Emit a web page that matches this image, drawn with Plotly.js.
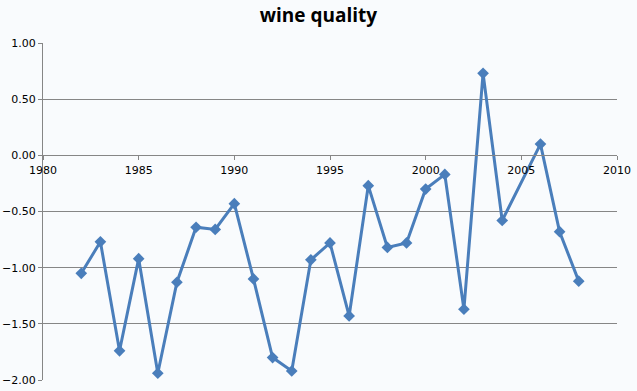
<!DOCTYPE html>
<html>
<head>
<meta charset="utf-8">
<script src="https://cdn.plot.ly/plotly-3.0.1.min.js"></script>
<style>html,body{margin:0;padding:0;background:#f9fbfd;}</style>
</head>
<body>
<div id="chart" style="width:637px;height:391px;"></div>
<script>
var years = [1982,1983,1984,1985,1986,1987,1988,1989,1990,1991,1992,1993,1994,1995,1996,1997,1998,1999,2000,2001,2002,2003,2004,2006,2007,2008];
var quality = [-1.05,-0.77,-1.74,-0.92,-1.94,-1.13,-0.64,-0.66,-0.43,-1.10,-1.80,-1.92,-0.93,-0.78,-1.43,-0.27,-0.82,-0.78,-0.30,-0.17,-1.37,0.73,-0.58,0.10,-0.68,-1.12];
var xTicks = [1980,1985,1990,1995,2000,2005,2010];
var yTicks = [1.0,0.5,0.0,-0.5,-1.0,-1.5,-2.0];

var trace = {
  x: years, y: quality, type: 'scatter', mode: 'lines+markers',
  line: {color: '#4a7ebb', width: 3},
  marker: {symbol: 'diamond', size: 9, color: '#4a7ebb'},
  cliponaxis: false
};
var layout = {
  width: 637, height: 391,
  paper_bgcolor: '#f9fbfd', plot_bgcolor: '#f9fbfd',
  margin: {l: 43, r: 20, t: 43, b: 11},
  showlegend: false,
  title: {text: '<b>wine quality</b>', x: 0.5, xanchor: 'center', y: 0.96, yanchor: 'middle',
          font: {family: 'Open Sans, Liberation Sans, sans-serif', size: 19, color: '#000'}},
  font: {family: 'DejaVu Sans, Liberation Sans, sans-serif', size: 11, color: '#000'},
  xaxis: {
    range: [1980, 2010], tickvals: xTicks, ticktext: xTicks.map(String),
    anchor: 'free', position: 2/3, showline: true, linecolor: '#868686', linewidth: 1,
    ticks: 'outside', ticklen: 4, tickcolor: '#868686', showgrid: false, zeroline: false,
    tickfont: {size: 11}
  },
  yaxis: {
    range: [-2, 1], domain: [0, 1], tickvals: yTicks, tickformat: '.2f',
    showline: true, linecolor: '#868686', linewidth: 1,
    ticks: 'outside', ticklen: 4, tickcolor: '#868686',
    showgrid: true, gridcolor: '#868686', gridwidth: 1, zeroline: false,
    tickfont: {size: 11}
  }
};
Plotly.newPlot('chart', [trace], layout, {staticPlot: true, displayModeBar: false});
</script>
</body>
</html>
